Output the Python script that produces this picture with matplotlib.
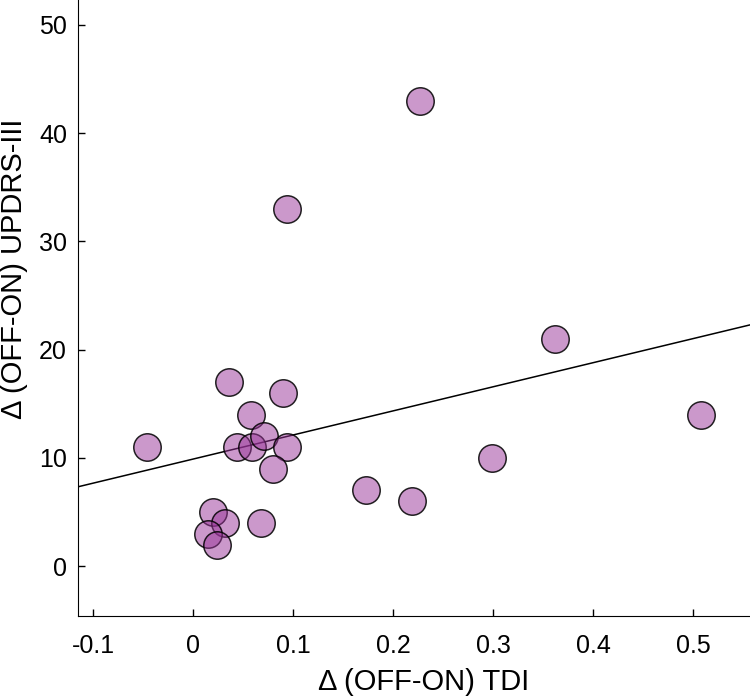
import numpy as np
import matplotlib.pyplot as plt

plt.rcParams['font.family'] = ['Liberation Sans', 'DejaVu Sans']

# delta (OFF-ON) TDI vs delta (OFF-ON) UPDRS-III
tdi = [-0.046, 0.227, 0.094, 0.362, 0.508, 0.299, 0.219, 0.173, 0.036, 0.090, 0.058,
       0.044, 0.059, 0.071, 0.094, 0.080, 0.020, 0.032, 0.068, 0.015, 0.024]
updrs = [11, 43, 33, 21, 14, 10, 6, 7, 17, 16, 14,
         11, 11, 12, 11, 9, 5, 4, 4, 3, 2]
xticks = [-0.1, 0, 0.1, 0.2, 0.3, 0.4, 0.5]
xticklabels = ['-0.1', '0', '0.1', '0.2', '0.3', '0.4', '0.5']
yticks = [0, 10, 20, 30, 40, 50]

fig = plt.figure(figsize=(7.5, 7), dpi=100)
ax = fig.add_axes([0.104, 0.12, 0.896, 0.88])

ax.scatter(tdi, updrs, s=390, facecolor=(0.6, 0.2, 0.6, 0.5),
           edgecolor=(0, 0, 0, 0.85), linewidth=1.1, zorder=3)

# least squares fit
slope, intercept = np.polyfit(tdi, updrs, 1)
xl = np.array([-0.115, 0.557])
ax.plot(xl, slope * xl + intercept, color='black', linewidth=1.1, zorder=2)

ax.set_xlim(-0.115, 0.557)
ax.set_ylim(-4.6, 52.3)
ax.set_xticks(xticks)
ax.set_xticklabels(xticklabels)
ax.set_yticks(yticks)
ax.spines['top'].set_visible(False)
ax.spines['right'].set_visible(False)
ax.tick_params(direction='in', length=5, width=1, labelsize=18)
ax.tick_params(axis='x', pad=13)
ax.tick_params(axis='y', pad=8)
ax.set_xlabel('Δ (OFF-ON) TDI', fontsize=21)
ax.set_ylabel('Δ (OFF-ON) UPDRS-III', fontsize=21)
ax.xaxis.set_label_coords(0.515, -0.085)
ax.yaxis.set_label_coords(-0.075, 0.563)

fig.savefig('out.png', dpi=100)
